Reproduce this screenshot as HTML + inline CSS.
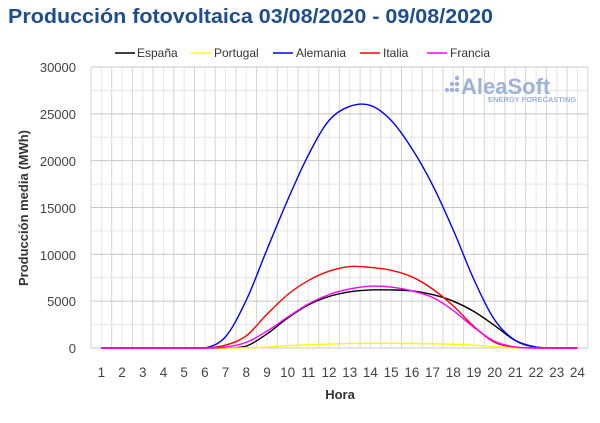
<!DOCTYPE html>
<html><head><meta charset="utf-8"><style>
body{margin:0;width:600px;height:418px;background:#fff;overflow:hidden}
svg{font-family:"Liberation Sans",sans-serif}
</style></head><body>
<svg id="s" width="600" height="418" xmlns="http://www.w3.org/2000/svg">
<text x="8" y="23" font-size="20" font-weight="bold" fill="#1f4e8c" textLength="485" lengthAdjust="spacingAndGlyphs">Producción fotovoltaica 03/08/2020 - 09/08/2020</text>
<g id="grid"></g>
<g font-size="13" fill="#444" text-anchor="end">
<text x="76" y="72">30000</text><text x="76" y="119">25000</text><text x="76" y="166">20000</text><text x="76" y="213">15000</text><text x="76" y="260">10000</text><text x="76" y="306">5000</text><text x="76" y="353">0</text>
</g>
<g id="xl" font-size="13.5" fill="#444" text-anchor="middle"></g>
<text x="340" y="399" font-size="13" font-weight="bold" fill="#333" text-anchor="middle">Hora</text>
<text transform="translate(28,208) rotate(-90)" font-size="13" font-weight="bold" fill="#333" text-anchor="middle">Producción media (MWh)</text>
<g font-size="12" fill="#333">
<line x1="115" y1="53" x2="135" y2="53" stroke="#000" stroke-width="1.5"/><text x="137" y="57">España</text>
<line x1="191" y1="53" x2="211" y2="53" stroke="#ff0" stroke-width="1.5"/><text x="214" y="57">Portugal</text>
<line x1="273" y1="53" x2="293" y2="53" stroke="#00f" stroke-width="1.5"/><text x="296" y="57">Alemania</text>
<line x1="360" y1="53" x2="380" y2="53" stroke="#f00" stroke-width="1.5"/><text x="383" y="57">Italia</text>
<line x1="427" y1="53" x2="447" y2="53" stroke="#f0f" stroke-width="1.5"/><text x="450" y="57">Francia</text>
</g>
<g fill="#9fb3d6">
<circle cx="447" cy="90" r="2.2"/><circle cx="452" cy="90" r="2.2"/><circle cx="457" cy="90" r="2.2"/><circle cx="457" cy="84" r="2.2"/><circle cx="457" cy="78" r="2.2"/><circle cx="452" cy="84" r="2.2"/>
<text x="461" y="94" font-size="22" font-weight="bold">AleaSoft</text>
<text x="488" y="102" font-size="7.5" font-weight="bold">ENERGY FORECASTING</text>
</g>
<g id="lines" fill="none" stroke-width="1.4"></g>
</svg>
<script>
var L=91,W=20.7,y0=348,k=281/30000;
var g=document.getElementById('grid'),h='';
for(var i=0;i<=48;i++){var x=L+i*W/2;h+='<line x1="'+x+'" y1="67" x2="'+x+'" y2="348" stroke="'+(i%2?'#e6e6e6':'#d4d4d4')+'"/>';}
for(var j=0;j<=12;j++){var y=y0-j*2500*k;h+='<line x1="'+L+'" y1="'+y+'" x2="'+(L+24*W)+'" y2="'+y+'" stroke="'+(j%2?'#e6e6e6':'#c8c8c8')+'"/>';}
g.innerHTML=h;
var xl='';for(var i=1;i<=24;i++)xl+='<text x="'+(L+(i-0.5)*W)+'" y="377">'+i+'</text>';
document.getElementById('xl').innerHTML=xl;
var D={
'#000':[0,0,0,0,0,0,0,200,1500,3200,4600,5500,6000,6200,6200,6100,5700,5000,3900,2400,800,100,0,0],
'#ff0':[0,0,0,0,0,0,0,20,100,250,350,420,470,500,500,480,450,400,300,150,30,0,0,0],
'#00f':[0,0,0,0,0,0,1200,5100,10500,15800,20600,24300,25800,25900,24300,21300,17400,12600,7300,3000,800,100,0,0],
'#f00':[0,0,0,0,0,0,300,1300,3600,5700,7200,8200,8700,8600,8300,7600,6300,4500,2300,600,100,0,0,0],
'#f0f':[0,0,0,0,0,0,100,600,1800,3300,4700,5700,6300,6600,6500,6100,5400,4000,2200,700,100,0,0,0]};
var out='';
for(var c in D){var p=D[c].map(function(v,i){return [L+(i+0.5)*W,y0-v*k]});
var d='M'+p[0][0]+','+p[0][1];
for(var i=0;i<p.length-1;i++){var p0=p[i-1]||p[i],p1=p[i],p2=p[i+1],p3=p[i+2]||p2;
var c1=[p1[0]+(p2[0]-p0[0])/6,p1[1]+(p2[1]-p0[1])/6],c2=[p2[0]-(p3[0]-p1[0])/6,p2[1]-(p3[1]-p1[1])/6];
c1[1]=Math.min(c1[1],y0);c2[1]=Math.min(c2[1],y0);
d+=' C'+c1+' '+c2+' '+p2;}
out+='<path d="'+d+'" stroke="'+c+'"/>';}
document.getElementById('lines').innerHTML=out;
</script>
</body></html>
